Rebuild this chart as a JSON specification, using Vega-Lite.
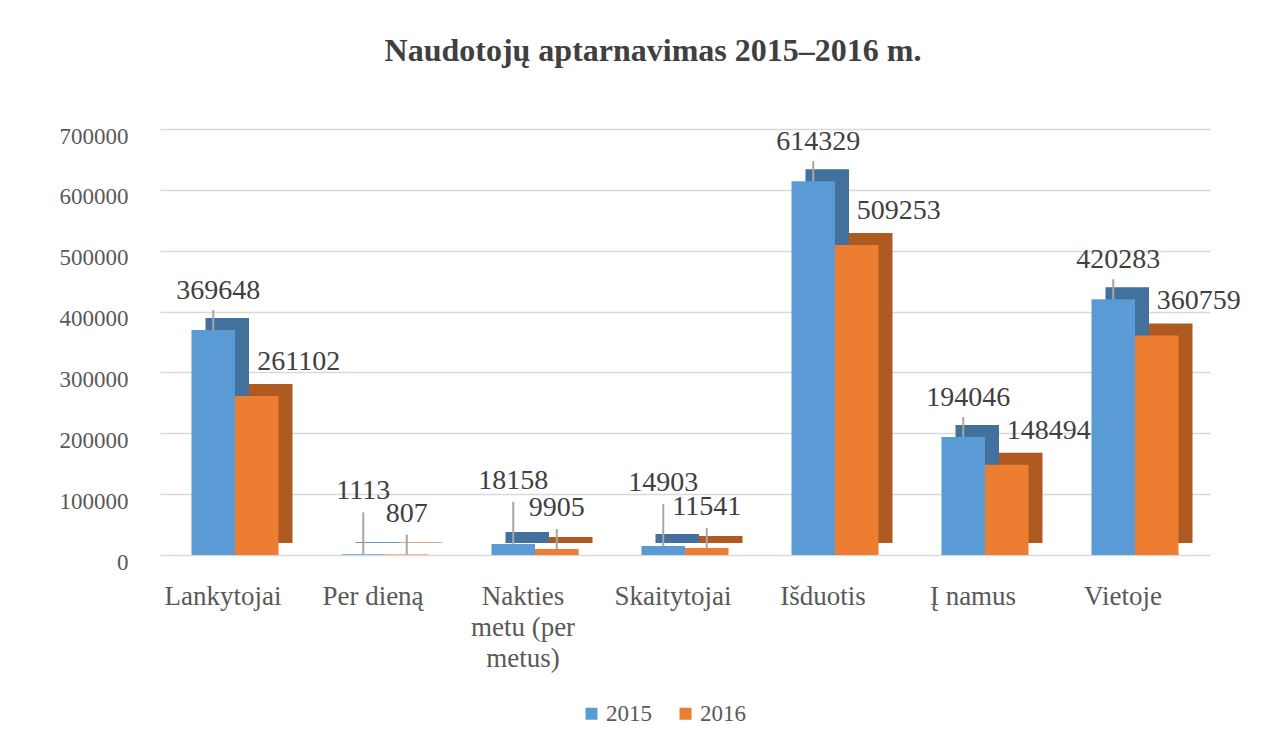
{
  "$schema": "https://vega.github.io/schema/vega-lite/v6.json",
  "autosize": {"type": "none"},
  "width": 1050,
  "height": 426,
  "padding": {"left": 160, "top": 129, "right": 78, "bottom": 189},
  "background": "white",
  "title": {
    "text": "Naudotojų aptarnavimas 2015–2016 m.",
    "font": "Liberation Serif",
    "fontSize": 32,
    "fontWeight": "bold",
    "color": "#404040",
    "anchor": "middle",
    "dx": -32,
    "offset": 57
  },
  "config": {
    "view": {"stroke": null},
    "axis": {"title": null}
  },
  "data": {
    "values": [
      {"cat": "Lankytojai", "year": "2015", "value": 369648},
      {"cat": "Lankytojai", "year": "2016", "value": 261102},
      {"cat": "Per dieną", "year": "2015", "value": 1113},
      {"cat": "Per dieną", "year": "2016", "value": 807},
      {"cat": "Nakties metu (per metus)", "year": "2015", "value": 18158},
      {"cat": "Nakties metu (per metus)", "year": "2016", "value": 9905},
      {"cat": "Skaitytojai", "year": "2015", "value": 14903},
      {"cat": "Skaitytojai", "year": "2016", "value": 11541},
      {"cat": "Išduotis", "year": "2015", "value": 614329},
      {"cat": "Išduotis", "year": "2016", "value": 509253},
      {"cat": "Į namus", "year": "2015", "value": 194046},
      {"cat": "Į namus", "year": "2016", "value": 148494},
      {"cat": "Vietoje", "year": "2015", "value": 420283},
      {"cat": "Vietoje", "year": "2016", "value": 360759}
    ]
  },
  "encoding": {
    "x": {
      "field": "cat",
      "type": "nominal",
      "sort": null,
      "scale": {"paddingInner": 0.42, "paddingOuter": 0.21},
      "axis": {
        "labelAngle": 0,
        "labelFont": "Liberation Serif",
        "labelFontSize": 27,
        "labelColor": "#595959",
        "labelPadding": 28,
        "labelOffset": -12,
        "labelBaseline": "top",
        "labelLineHeight": 31,
        "domain": false,
        "ticks": false,
        "grid": false,
        "labelExpr": "datum.value == 'Nakties metu (per metus)' ? ['Nakties', 'metu (per', 'metus)'] : datum.value"
      }
    },
    "y": {
      "field": "value",
      "type": "quantitative",
      "scale": {"domain": [0, 700000]},
      "axis": {
        "values": [0, 100000, 200000, 300000, 400000, 500000, 600000, 700000],
        "format": "d",
        "labelFont": "Liberation Serif",
        "labelFontSize": 23,
        "labelColor": "#595959",
        "labelPadding": 32,
        "labelOffset": 7,
        "domain": false,
        "ticks": false,
        "grid": true,
        "gridColor": "#D9D9D9",
        "gridWidth": 1.5
      }
    }
  },
  "resolve": {"scale": {"xOffset": "independent"}},
  "layer": [
    {
      "mark": {"type": "bar", "yOffset": -12, "y2Offset": -12},
      "encoding": {
        "xOffset": {"field": "year", "type": "nominal", "scale": {"domain": ["2015", "2016"], "range": [14, 101], "paddingInner": 0, "paddingOuter": 0}},
        "color": {"condition": {"test": "datum.year == '2015'", "value": "#41719C"}, "value": "#AE5A21"}
      }
    },
    {
      "encoding": {
        "xOffset": {"field": "year", "type": "nominal", "scale": {"domain": ["2015", "2016"], "paddingInner": 0, "paddingOuter": 0}}
      },
      "layer": [
        {
          "mark": {"type": "bar"},
          "encoding": {
            "color": {
              "field": "year",
              "type": "nominal",
              "scale": {"domain": ["2015", "2016"], "range": ["#5B9BD5", "#ED7D31"]},
              "legend": {
                "title": null,
                "orient": "none",
                "direction": "horizontal",
                "legendX": 420,
                "legendY": 573,
                "symbolType": "square",
                "symbolSize": 144,
                "symbolStrokeWidth": 0,
                "labelFont": "Liberation Serif",
                "labelFontSize": 23,
                "labelColor": "#595959",
                "labelOffset": 3,
                "columnPadding": 22
              }
            }
          }
        },
        {
          "transform": [{"filter": "datum.year == '2015' && datum.value >= 100000"}],
          "mark": {"type": "rule", "color": "#A6A6A6", "strokeWidth": 2, "y2Offset": -20},
          "encoding": {"y2": {"field": "value"}}
        },
        {
          "transform": [{"filter": "datum.year == '2015' && datum.value < 100000"}],
          "mark": {"type": "rule", "color": "#A6A6A6", "strokeWidth": 2, "y2Offset": -42},
          "encoding": {"y2": {"field": "value"}}
        },
        {
          "transform": [{"filter": "datum.year == '2016' && datum.value < 100000"}],
          "mark": {"type": "rule", "color": "#A6A6A6", "strokeWidth": 2, "y2Offset": -20},
          "encoding": {"y2": {"field": "value"}}
        },
        {
          "transform": [{"filter": "datum.year == '2015' && datum.value >= 100000"}],
          "mark": {"type": "text", "font": "Liberation Serif", "fontSize": 28, "color": "#404040", "baseline": "middle", "dy": -39, "dx": 5},
          "encoding": {"text": {"field": "value", "type": "quantitative", "format": "d"}}
        },
        {
          "transform": [{"filter": "datum.year == '2015' && datum.value < 100000"}],
          "mark": {"type": "text", "font": "Liberation Serif", "fontSize": 28, "color": "#404040", "baseline": "middle", "dy": -63},
          "encoding": {"text": {"field": "value", "type": "quantitative", "format": "d"}}
        },
        {
          "transform": [{"filter": "datum.year == '2016' && datum.value >= 100000"}],
          "mark": {"type": "text", "font": "Liberation Serif", "fontSize": 28, "color": "#404040", "baseline": "middle", "dy": -34, "dx": 42},
          "encoding": {"text": {"field": "value", "type": "quantitative", "format": "d"}}
        },
        {
          "transform": [{"filter": "datum.year == '2016' && datum.value < 100000"}],
          "mark": {"type": "text", "font": "Liberation Serif", "fontSize": 28, "color": "#404040", "baseline": "middle", "dy": -41},
          "encoding": {"text": {"field": "value", "type": "quantitative", "format": "d"}}
        }
      ]
    }
  ]
}
